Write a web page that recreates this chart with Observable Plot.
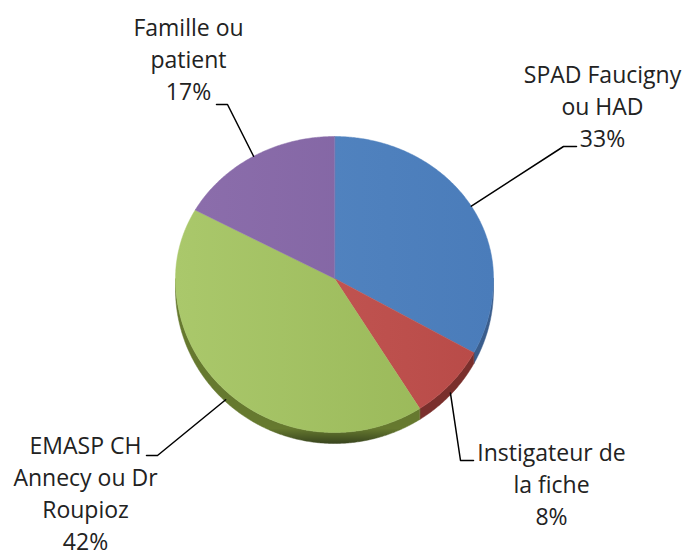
<!DOCTYPE html>
<html><head><meta charset="utf-8">
<script src="https://cdn.jsdelivr.net/npm/d3@7"></script>
<script src="https://cdn.jsdelivr.net/npm/@observablehq/plot@0.6"></script>
<style>html,body{margin:0;padding:0;background:#fff;}</style>
</head><body><div id="chart"></div>
<script>
// ---- data ----
const categories = ["SPAD Faucigny\nou HAD", "Instigateur de\nla fiche", "EMASP CH\nAnnecy ou Dr\nRoupioz", "Famille ou\npatient"];
const values = [33, 8, 42, 17];
const percentLabels = ["33%", "8%", "42%", "17%"];

// ---- styles / layout ----
const W = 685, H = 554;
const topColors = [["#5688c3", "#4a7cba"], ["#c75c59", "#b84a47"], ["#aac86b", "#97b656"], ["#8c6eac", "#7e619f"]];
const sideColors = [["#3a5d8c", "#263f60"], ["#7a2f2c", "#4a1b1a"], ["#66792f", "#39451e"], ["#5a4678", "#3a2d4e"]];
const geom = {cx: 334, cy: 278, rx: 159, ryTop: 142, ryBot: 154, depth: 11};
const labelLayout = [
  {x: 602, baseline: 82, elbow: [563, 146], end: [576, 146]},
  {x: 551, baseline: 460, elbow: [460, 460], end: [473, 460]},
  {x: 85, baseline: 453, elbow: [157, 455], end: [146, 455]},
  {x: 188, baseline: 35, elbow: [227, 104], end: [216, 104]}
];
const fontSize = 23, lineStep = 32.3;

// ---- geometry from data ----
const arcs = d3.pie().sort(null).value(d => d)(values);
function pt(a, off = 0) {
  const dx = Math.sin(a), dy = -Math.cos(a);
  return {x: geom.cx + geom.rx * dx, y: geom.cy + dy * (dy < 0 ? geom.ryTop : geom.ryBot) + off};
}
function arcPts(a0, a1, off) {
  const n = Math.max(2, Math.ceil(Math.abs(a1 - a0) / (Math.PI / 360)));
  return d3.range(n + 1).map(i => pt(a0 + (a1 - a0) * i / n, off));
}
const topRows = [], sideRows = [], leaderRows = [];
arcs.forEach((d, i) => {
  const pts = [{x: geom.cx, y: geom.cy}, ...arcPts(d.startAngle, d.endAngle, 0)];
  pts.forEach(p => topRows.push({...p, k: i, fill: `url(#g${i})`}));
  const s = Math.max(d.startAngle, Math.PI / 2), e = Math.min(d.endAngle, 3 * Math.PI / 2);
  if (s < e) {
    const side = [...arcPts(s, e, 0), ...arcPts(e, s, geom.depth)];
    side.forEach(p => sideRows.push({...p, k: i, fill: `url(#s${i})`}));
  }
  const mid = (d.startAngle + d.endAngle) / 2;
  const lower = -Math.cos(mid) > 0;
  const p0 = pt(mid, lower ? geom.depth - 2 : 0);
  const L = labelLayout[i];
  [p0, {x: L.elbow[0], y: L.elbow[1]}, {x: L.end[0], y: L.end[1]}].forEach(p => leaderRows.push({...p, k: i}));
});
const textRows = categories.map((c, i) => ({
  x: labelLayout[i].x,
  y: labelLayout[i].baseline - 0.71 * lineStep,
  text: c + "\n" + percentLabels[i]
}));

const svg = Plot.plot({
  width: W, height: H,
  margin: 0,
  style: {fontFamily: "'Open Sans', sans-serif", background: "#fff"},
  x: {domain: [0, W], range: [0, W], axis: null},
  y: {domain: [0, H], range: [0, H], axis: null},
  color: {type: "identity"},
  marks: [
    Plot.line(sideRows, {x: "x", y: "y", z: "k", fill: "fill", stroke: "fill", strokeWidth: 0.5, curve: "linear-closed"}),
    Plot.line(topRows, {x: "x", y: "y", z: "k", fill: "fill", stroke: "fill", strokeWidth: 0.5, curve: "linear-closed"}),
    Plot.line(leaderRows, {x: "x", y: "y", z: "k", stroke: "#000", strokeWidth: 1.5}),
    Plot.text(textRows, {x: "x", y: "y", text: "text", fontSize, lineHeight: lineStep / fontSize, lineAnchor: "top", textAnchor: "middle", fill: "#222"})
  ]
});

const defs = d3.select(svg).insert("defs", ":first-child");
topColors.forEach((c, i) => {
  const g = defs.append("linearGradient").attr("id", `g${i}`).attr("gradientUnits", "userSpaceOnUse")
    .attr("x1", geom.cx - geom.rx).attr("x2", geom.cx + geom.rx).attr("y1", 0).attr("y2", 0);
  g.append("stop").attr("offset", "0").attr("stop-color", c[0]);
  g.append("stop").attr("offset", "1").attr("stop-color", c[1]);
});
sideColors.forEach((c, i) => {
  const g = defs.append("linearGradient").attr("id", `s${i}`).attr("gradientUnits", "userSpaceOnUse")
    .attr("x1", 0).attr("x2", 0).attr("y1", geom.cy + geom.ryBot - 4).attr("y2", geom.cy + geom.ryBot + geom.depth);
  g.append("stop").attr("offset", "0").attr("stop-color", c[0]);
  g.append("stop").attr("offset", "1").attr("stop-color", c[1]);
});
document.getElementById("chart").append(svg);
</script>
</body></html>
